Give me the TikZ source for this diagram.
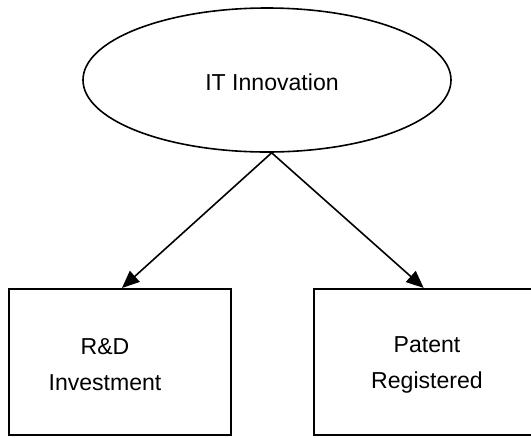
\documentclass[tikz,border=0pt]{standalone}
\usepackage{fontspec}
\setmainfont{Liberation Sans}
\usetikzlibrary{shapes.geometric,arrows.meta}

\begin{document}
\begin{tikzpicture}[x=0.75pt,y=0.75pt,yscale=-1,xscale=1,
  font=\fontsize{17.3pt}{27pt}\selectfont,
  bubble/.style={draw,ellipse,line width=1.2pt,inner sep=0pt,minimum width=276pt,minimum height=108pt},
  box/.style={draw,rectangle,line width=1.6pt,inner sep=0pt,minimum width=167pt,minimum height=109.5pt},
  lbl/.style={inner sep=0pt,align=center},
  link/.style={line width=1.2pt,-{Triangle[length=13pt,width=11pt]}}]
\useasboundingbox (0,0) rectangle (531,437);

%Ellipse
\node [bubble] (itinno) at (267,80) {};
\node [lbl] (itinnotext) at (272,82) {IT Innovation};

%Boxes
\node [box] (rnd) at (120,362) {};
\node [box] (patent) at (425,362) {};

% Text Node
\node [lbl] (rndtext) at (105,365) {R\&D\\Investment};
% Text Node
\node [lbl] (patenttext) at (427,365) {Patent\\Registered};

%Arrows
\draw [link] ([xshift=3.5pt]itinno.south) -- ([xshift=1.5pt]rnd.north);
\draw [link] ([xshift=3.5pt]itinno.south) -- ([xshift=-1pt]patent.north);

\end{tikzpicture}
\end{document}
